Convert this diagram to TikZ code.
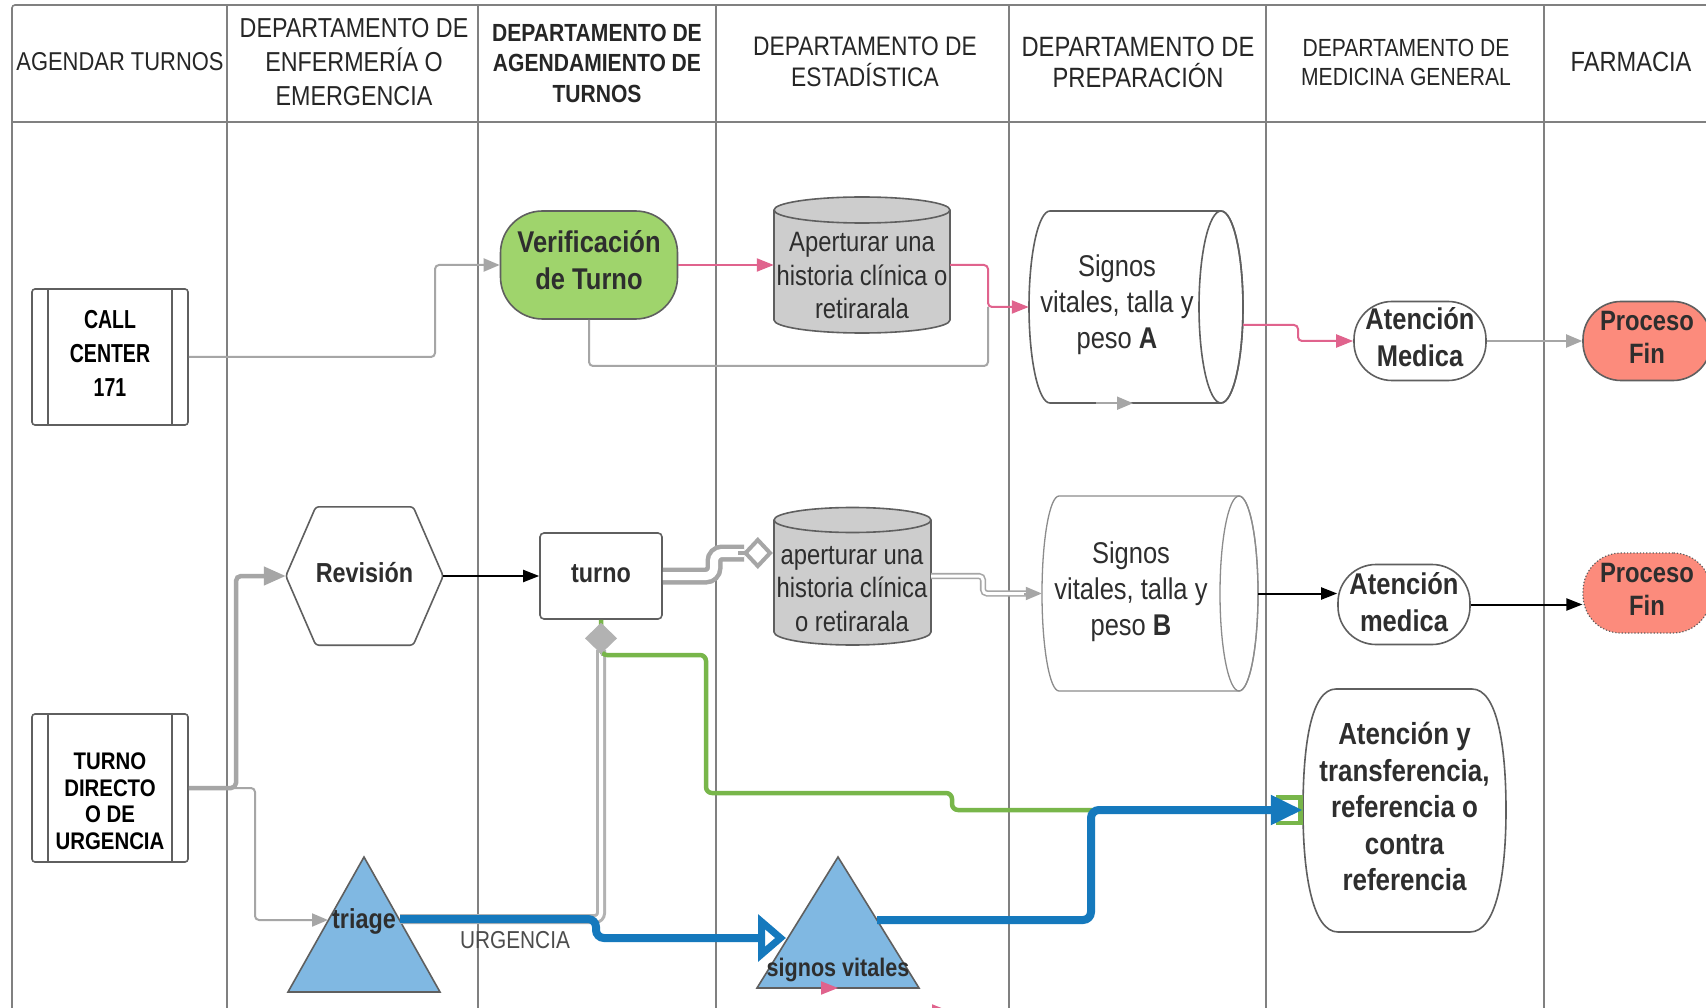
\documentclass[tikz,border=0pt]{standalone}
\usepackage{fontspec}
\setmainfont{Liberation Sans}[FakeStretch=0.85]
\newfontfamily\narrowfont{Liberation Sans}[FakeStretch=0.75]
\usetikzlibrary{arrows.meta,calc}
\definecolor{lanegray}{HTML}{808080}
\definecolor{shpgray}{HTML}{5F5F5F}
\definecolor{txtc}{HTML}{2E2E2E}
\definecolor{conngray}{HTML}{A6A6A6}
\definecolor{pinkc}{HTML}{E0638D}
\definecolor{bluec}{HTML}{1579BD}
\definecolor{greenc}{HTML}{78B64A}
\definecolor{verigreen}{HTML}{9FD46C}
\definecolor{cylgray}{HTML}{CDCDCD}
\definecolor{salmon}{HTML}{FC8B7C}
\definecolor{triblue}{HTML}{80B8E2}
\definecolor{dgray}{HTML}{B2B2B2}
\definecolor{lightshp}{HTML}{8C8C8C}
\newcommand{\myfs}[2]{\fontsize{#1}{#2}\selectfont}
\begin{document}
\begin{tikzpicture}[x=1pt, y=1pt,
 lane/.style={draw=lanegray, line width=1.6},
 shp/.style={draw=shpgray, line width=1.6},
 txtn/.style={text=txtc, align=center, inner sep=0},
 hdr/.style={text=black!85, align=center, inner sep=0},
 gconn/.style={draw=conngray, line width=2, -{Triangle[length=16pt,width=13pt]}},
 pconn/.style={draw=pinkc, line width=2, -{Triangle[length=17pt,width=13pt]}},
 kconn/.style={draw=black, line width=2, -{Triangle[length=16pt,width=12pt]}},
 gthick/.style={draw=conngray, line width=4.5, -{Triangle[length=22pt,width=18pt]}},
 gdbl/.style={draw=conngray, line width=4.5, double=white, double distance=8},
 gdblv/.style={draw=dgray, line width=3, double=white, double distance=4},
 gdblthin/.style={draw=conngray, line width=1.6, double=white, double distance=3},
 bluel/.style={draw=bluec, line width=8},
 greenl/.style={draw=greenc, line width=4.5},
]
\useasboundingbox (0,0) rectangle (1706,-1008);
\fill[white] (0,0) rectangle (1706,-1008);

% lanes and header
\draw[lane, rounded corners=3] (12,-1012) -- (12,-5) -- (1712,-5);
\draw[lane, line width=2.4] (12,-122) -- (1712,-122);
\foreach \x in {227,478,716,1009,1266,1544} {\draw[lane] (\x,-5) -- (\x,-1012);}

\node[hdr, font=\myfs{25.8}{34}] (h1) at (120,-62) {AGENDAR TURNOS};
\node[hdr, font=\myfs{27.4}{34}] (h2) at (354,-62) {DEPARTAMENTO DE\\ENFERMERÍA O\\EMERGENCIA};
\node[hdr, font=\myfs{24.8}{30.5}\bfseries] (h3) at (597,-63) {DEPARTAMENTO DE\\AGENDAMIENTO DE\\TURNOS};
\node[hdr, font=\myfs{26.8}{31}] (h4) at (865,-62) {DEPARTAMENTO DE\\ESTADÍSTICA};
\node[hdr, font=\myfs{27.9}{31}] (h5) at (1138,-62) {DEPARTAMENTO DE\\PREPARACIÓN};
\node[hdr, font=\myfs{24.8}{29}] (h6) at (1406,-62) {DEPARTAMENTO DE\\MEDICINA GENERAL};
\node[hdr, font=\myfs{27.8}{34}] (h7) at (1631,-62) {FARMACIA};

% CALL CENTER
\node[shp, rounded corners=3, minimum width=156, minimum height=136, text=black, align=center, inner sep=0, text depth=7pt, font=\narrowfont\myfs{26}{34}\bfseries] (cc) at (110,-357) {CALL\\CENTER\\171};
\draw[shp] ($(cc.north west)+(17,0)$) -- ($(cc.south west)+(17,0)$);
\draw[shp] ($(cc.north east)+(-17,0)$) -- ($(cc.south east)+(-17,0)$);

% TURNO DIRECTO
\node[shp, rounded corners=3, minimum width=156, minimum height=148, inner sep=0] (td) at (110,-788) {};
\draw[shp] ($(td.north west)+(17,0)$) -- ($(td.south west)+(17,0)$);
\draw[shp] ($(td.north east)+(-17,0)$) -- ($(td.south east)+(-17,0)$);
\node[txtn, text=black, font=\myfs{24}{26.5}\bfseries] (tdt) at (110,-801) {TURNO\\DIRECTO\\O DE\\URGENCIA};

% Verificacion
\node[shp, fill=verigreen, rounded corners=42, minimum width=177, minimum height=108, txtn, text depth=9pt, font=\myfs{30}{37}\bfseries] (verif) at (589,-265) {Verificación\\de Turno};

% Apertura 1 cylinder
\node[minimum width=176, minimum height=136, inner sep=0] (ap1) at (862,-265) {};
\filldraw[shp, fill=cylgray] (774,-210) -- (774,-320) arc[start angle=180,end angle=360,x radius=88,y radius=13] -- (950,-210) arc[start angle=0,end angle=180,x radius=88,y radius=13] -- cycle;
\draw[shp] (774,-210) arc[start angle=180,end angle=360,x radius=88,y radius=13];
\node[txtn, font=\myfs{28}{33.5}] (ap1t) at (862,-276) {Aperturar una\\historia clínica o\\retirarala};

% Signos A
\node[minimum width=214, minimum height=192, inner sep=0] (sA) at (1136,-307) {};
\filldraw[shp, fill=white] (1050,-211) -- (1221,-211) arc[start angle=90,end angle=-90,x radius=22,y radius=96] -- (1050,-403) arc[start angle=270,end angle=90,x radius=21,y radius=96] -- cycle;
\draw[shp] (1221,-307) ellipse[x radius=22,y radius=96];
\node[txtn, font=\myfs{30}{36}] (sAt) at (1117,-305) {Signos\\vitales, talla y\\peso \textbf{A}};

% Atencion Medica 1
\node[shp, fill=white, rounded corners=38, minimum width=132, minimum height=79, txtn, text depth=9pt, font=\myfs{30}{37}\bfseries] (atm1) at (1420,-341) {Atención\\Medica};

% Proceso Fin 1
\node[shp, fill=salmon, rounded corners=38, minimum width=128, minimum height=79, txtn, text depth=7pt, font=\myfs{28}{33}\bfseries] (pf1) at (1647,-341) {Proceso\\Fin};

% Revision hexagon
\node[minimum width=157, minimum height=138, txtn, text depth=7pt, font=\myfs{27.5}{32}\bfseries] (rev) at (364.5,-576) {Revisión};
\draw[shp, rounded corners=3] (rev.west) -- ($(rev.north west)+(30,0)$) -- ($(rev.north east)+(-30,0)$) -- (rev.east) -- ($(rev.south east)+(-30,0)$) -- ($(rev.south west)+(30,0)$) -- cycle;

% turno
\node[shp, fill=white, rounded corners=4, minimum width=122, minimum height=86, txtn, text depth=4.5pt, font=\myfs{27.5}{32}\bfseries] (turno) at (601,-576) {turno};

% Apertura 2 cylinder
\node[minimum width=157, minimum height=138, inner sep=0] (ap2) at (852.5,-576) {};
\filldraw[shp, fill=cylgray] (774,-520) -- (774,-632) arc[start angle=180,end angle=360,x radius=78.5,y radius=13] -- (931,-520) arc[start angle=0,end angle=180,x radius=78.5,y radius=12.5] -- cycle;
\draw[shp] (774,-520) arc[start angle=180,end angle=360,x radius=78.5,y radius=12.5];
\node[txtn, font=\myfs{28}{33.5}] (ap2t) at (852,-589) {aperturar una\\historia clínica\\o retirarala};

% Signos B
\node[minimum width=216, minimum height=195, inner sep=0] (sB) at (1150,-593.5) {};
\filldraw[draw=lightshp, line width=1.3, fill=white] (1059,-496) -- (1239,-496) arc[start angle=90,end angle=-90,x radius=19,y radius=97.5] -- (1059,-691) arc[start angle=270,end angle=90,x radius=17,y radius=97.5] -- cycle;
\draw[draw=lightshp, line width=1.3] (1239,-593.5) ellipse[x radius=19,y radius=97.5];
\node[txtn, font=\myfs{30}{36}] (sBt) at (1131,-592) {Signos\\vitales, talla y\\peso \textbf{B}};

% Atencion medica 2
\node[shp, fill=white, rounded corners=38, minimum width=132, minimum height=80, txtn, text depth=5.5pt, font=\myfs{30}{37}\bfseries] (atm2) at (1404,-604.5) {Atención\\medica};

% Proceso Fin 2
\node[draw=shpgray, line width=1.2, dotted, fill=salmon, rounded corners=38, minimum width=128, minimum height=80, txtn, text depth=7pt, font=\myfs{28}{33}\bfseries] (pf2) at (1647,-593) {Proceso\\Fin};

% Atencion y transferencia
\filldraw[shp, fill=white] (1336,-689) -- (1472,-689) .. controls (1497,-689) and (1506,-745) .. (1506,-810) .. controls (1506,-876) and (1496,-932) .. (1470,-932) -- (1338,-932) .. controls (1313,-932) and (1303,-876) .. (1303,-810) .. controls (1303,-745) and (1311,-689) .. (1336,-689) -- cycle;
\node[minimum width=203, minimum height=243, txtn, text depth=7pt, font=\myfs{30.5}{36.6}\bfseries] (aty) at (1404.5,-810) {Atención y\\transferencia,\\referencia o\\contra\\referencia};

% triangles
\filldraw[shp, fill=triblue] (364,-857) -- (440,-992) -- (288,-992) -- cycle;
\node[txtn, font=\myfs{27.5}{30}\bfseries] (triage) at (364,-921) {triage};
\coordinate (triR) at (400,-919);
\coordinate (triL) at (328,-920);
\filldraw[shp, fill=triblue] (838,-857) -- (919,-988) -- (757,-988) -- cycle;
\node[txtn, font=\myfs{25.4}{30}\bfseries] (sv) at (838,-970) {signos vitales};
\coordinate (svL) at (786,-938);
\coordinate (svR) at (877,-920);

\node[txtn, text=black!70, font=\myfs{24.5}{28}] (urg) at (515,-940) {URGENCIA};

% ---- connectors ----
\draw[gconn, rounded corners=4] (cc.east) -- (435,-357) |- (verif.west);
\coordinate (jA) at (988,-307);
\draw[draw=conngray, line width=2, rounded corners=4] (verif.south) |- (988,-366) -- (jA);
\draw[pconn] (verif.east) -- (ap1.west);
\draw[pconn, rounded corners=4] (ap1.east) -- (988,-265) |- (sA.west);
\draw[pconn, rounded corners=4] ($(sA.east)+(0,-18)$) -- (1298,-325) |- (atm1.west);
\draw[gconn] (atm1.east) -- (pf1.west);
\draw[gconn] ($(sA.south)+(-40,0)$) -- ($(sA.south)+(-3,0)$);

\draw[gthick, rounded corners=5] (td.east) -- (236,-788) |- (rev.west);
\draw[gconn, rounded corners=4] (td.east) -- (255,-788) |- (triL);
\draw[kconn] (rev.east) -- (turno.west);

\draw[gdbl, rounded corners=8] (turno.east) -- (714,-576) -- (714,-553) -- (744,-553);
\coordinate (ap2d) at ($(ap2.west)+(-1,23)$);
\draw[draw=conngray, line width=4, -{Diamond[open,length=30pt,width=32pt]}] (738,-553) -- (ap2d);

\draw[gdblthin, rounded corners=4] (ap2.east) -- (983,-576) -- (983,-593.5) -- (1026,-593.5);
\draw[gconn] (1024,-593.5) -- (sB.west);
\draw[kconn] (sB.east) -- (sB.east -| atm2.west);
\draw[kconn] (atm2.east) -- (atm2.east -| pf2.west);

\draw[gdblv, rounded corners=6] (triR) -| ($(turno.south)+(0,-30)$);
\draw[greenl, rounded corners=6, -{Square[open,length=27pt,width=30pt,line width=4.5pt]}] (turno.south) |- (706,-655) -- (706,-793) -- (952,-793) -- (952,-810) -- (aty.west);
\draw[bluel, rounded corners=8, -{Triangle[open,length=28pt,width=46pt,line width=7pt]}] (triR) -- (596,-919) -- (596,-938) -- (svL);
\draw[bluel, rounded corners=8, -{Triangle[length=32pt,width=28pt]}] (svR) -- (1091,-920) -- (1091,-810) -- (aty.west);
\draw[draw=dgray, line width=1, -{Diamond[length=31pt,width=32pt]}] ($(turno.south)+(0,-36)$) -- ($(turno.south)+(0,-3)$);

\draw[pconn] (823,-988) -- (838,-988);
\draw[pconn] (933,-1011) -- (949,-1011);
\end{tikzpicture}
\end{document}
